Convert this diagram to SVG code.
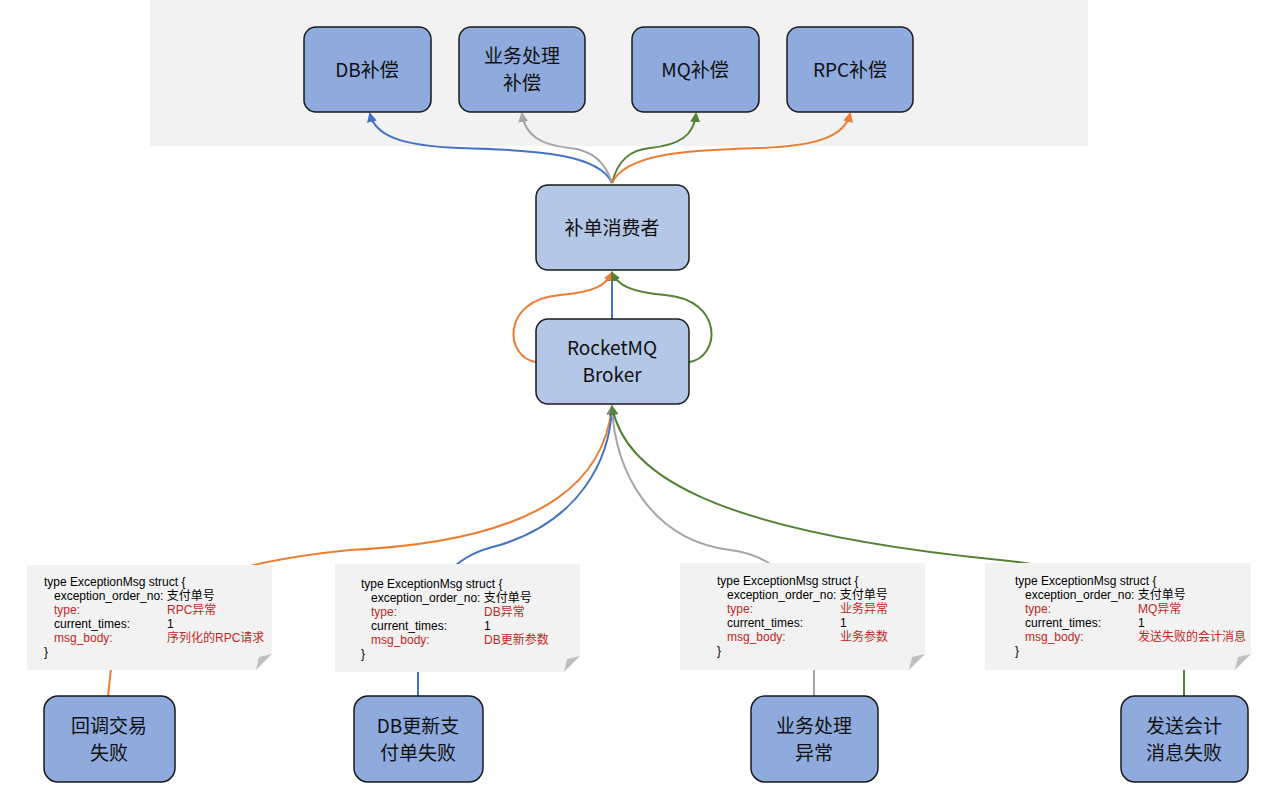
<svg xmlns="http://www.w3.org/2000/svg" width="1280" height="794" viewBox="0 0 1280 794">
<style>
.b{fill:#8faadc;stroke:#1a1a1a;stroke-width:1.5}
.l{fill:#b4c7e7;stroke:#1a1a1a;stroke-width:1.5}
.t{font-family:"Noto Sans CJK SC","Noto Sans",sans-serif;font-size:19px;fill:#111;text-anchor:middle}
.n{fill:#f2f2f2}
.f{fill:#bfbfbf}
.m{font-family:"Liberation Sans","Noto Sans CJK SC",sans-serif;font-size:12px;fill:#000}
.r{fill:#c0281e}
.c{fill:none;stroke-width:2}
</style>
<defs>
<marker id="ab" viewBox="0 0 10 10" refX="8" refY="5" markerWidth="5" markerHeight="5" orient="auto"><path d="M0,0L10,5L0,10z" fill="#4472c4"/></marker>
<marker id="ag" viewBox="0 0 10 10" refX="8" refY="5" markerWidth="5" markerHeight="5" orient="auto"><path d="M0,0L10,5L0,10z" fill="#a5a5a5"/></marker>
<marker id="an" viewBox="0 0 10 10" refX="8" refY="5" markerWidth="5" markerHeight="5" orient="auto"><path d="M0,0L10,5L0,10z" fill="#548235"/></marker>
<marker id="ao" viewBox="0 0 10 10" refX="8" refY="5" markerWidth="5" markerHeight="5" orient="auto"><path d="M0,0L10,5L0,10z" fill="#ed7d31"/></marker>
</defs>
<rect x="150" y="0" width="938" height="146" fill="#f2f2f2"/>
<g id="connectors">
<path class="c" stroke="#4472c4" marker-end="url(#ab)" d="M612,183 C600,155 540,150 460,148 C400,146 375,135 370,114"/>
<path class="c" stroke="#a5a5a5" marker-end="url(#ag)" d="M612,183 C605,160 590,150 570,148 C540,145 525,135 522,114"/>
<path class="c" stroke="#548235" marker-end="url(#an)" d="M612,183 C618,160 630,150 650,148 C680,145 694,135 696,114"/>
<path class="c" stroke="#ed7d31" marker-end="url(#ao)" d="M612,183 C625,155 680,150 760,148 C820,146 845,135 850,114"/>
<path class="c" stroke="#4472c4" marker-end="url(#ab)" d="M612,319 L612,273"/>
<path class="c" stroke="#ed7d31" marker-end="url(#ao)" d="M536,362 C505,358 500,300 560,295 C595,292 606,285 612,273"/>
<path class="c" stroke="#548235" marker-end="url(#an)" d="M689,362 C720,358 725,300 665,295 C630,292 618,285 612,273"/>
<path class="c" stroke="#ed7d31" marker-end="url(#ao)" d="M108,696 L112,660 C150,580 250,560 350,550 C560,540 605,470 612,407"/>
<path class="c" stroke="#4472c4" marker-end="url(#ab)" d="M418,696 L418,660 C430,570 460,555 500,545 C580,520 610,460 612,407"/>
<path class="c" stroke="#a5a5a5" marker-end="url(#ag)" d="M814,696 L814,660 C810,580 770,555 730,550 C650,540 615,470 612,407"/>
<path class="c" stroke="#548235" marker-end="url(#an)" d="M1184,696 L1184,660 C1160,580 1050,565 1000,560 C700,530 625,470 612,407"/>
</g>
<g id="db"><rect class="b" x="304" y="27" width="127" height="85" rx="12"/><text class="t" x="367" y="77">DB补偿</text></g>
<g id="biz"><rect class="b" x="459" y="27" width="126" height="85" rx="12"/><text class="t" x="522" y="63">业务处理</text><text class="t" x="522" y="90">补偿</text></g>
<g id="mq"><rect class="b" x="632" y="27" width="127" height="85" rx="12"/><text class="t" x="695" y="77">MQ补偿</text></g>
<g id="rpc"><rect class="b" x="787" y="27" width="126" height="85" rx="12"/><text class="t" x="850" y="77">RPC补偿</text></g>
<g id="consumer"><rect class="l" x="536" y="185" width="153" height="85" rx="12"/><text class="t" x="612" y="235">补单消费者</text></g>
<g id="broker"><rect class="l" x="536" y="319" width="153" height="85" rx="12"/><text class="t" x="612" y="355">RocketMQ</text><text class="t" x="612" y="382">Broker</text></g>
<g id="note1"><path class="n" d="M27,565H272V654L256,670H27z"/><path class="f" d="M272,654L256,670L259,657z"/>
<text class="m" x="44" y="586">type ExceptionMsg struct {</text>
<text class="m" x="54" y="600">exception_order_no: 支付单号</text>
<text class="m r" x="54" y="614">type:</text><text class="m r" x="167" y="614">RPC异常</text>
<text class="m" x="54" y="628">current_times:</text><text class="m" x="167" y="628">1</text>
<text class="m r" x="54" y="642">msg_body:</text><text class="m r" x="167" y="642">序列化的RPC请求</text>
<text class="m" x="44" y="656">}</text></g>
<g id="note2"><path class="n" d="M335,564H580V656L564,672H335z"/><path class="f" d="M580,656L564,672L567,659z"/>
<text class="m" x="361" y="588">type ExceptionMsg struct {</text>
<text class="m" x="371" y="602">exception_order_no: 支付单号</text>
<text class="m r" x="371" y="616">type:</text><text class="m r" x="484" y="616">DB异常</text>
<text class="m" x="371" y="630">current_times:</text><text class="m" x="484" y="630">1</text>
<text class="m r" x="371" y="644">msg_body:</text><text class="m r" x="484" y="644">DB更新参数</text>
<text class="m" x="361" y="658">}</text></g>
<g id="note3"><path class="n" d="M680,563H925V654L909,670H680z"/><path class="f" d="M925,654L909,670L912,657z"/>
<text class="m" x="717" y="585">type ExceptionMsg struct {</text>
<text class="m" x="727" y="599">exception_order_no: 支付单号</text>
<text class="m r" x="727" y="613">type:</text><text class="m r" x="840" y="613">业务异常</text>
<text class="m" x="727" y="627">current_times:</text><text class="m" x="840" y="627">1</text>
<text class="m r" x="727" y="641">msg_body:</text><text class="m r" x="840" y="641">业务参数</text>
<text class="m" x="717" y="655">}</text></g>
<g id="note4"><path class="n" d="M985,563H1251V654L1235,670H985z"/><path class="f" d="M1251,654L1235,670L1238,657z"/>
<text class="m" x="1015" y="585">type ExceptionMsg struct {</text>
<text class="m" x="1025" y="599">exception_order_no: 支付单号</text>
<text class="m r" x="1025" y="613">type:</text><text class="m r" x="1138" y="613">MQ异常</text>
<text class="m" x="1025" y="627">current_times:</text><text class="m" x="1138" y="627">1</text>
<text class="m r" x="1025" y="641">msg_body:</text><text class="m r" x="1138" y="641">发送失败的会计消息</text>
<text class="m" x="1015" y="655">}</text></g>
<g id="cb"><rect class="b" x="44" y="696" width="131" height="86" rx="14"/><text class="t" x="109" y="733">回调交易</text><text class="t" x="109" y="760">失败</text></g>
<g id="dbf"><rect class="b" x="354" y="696" width="129" height="86" rx="14"/><text class="t" x="418" y="733">DB更新支</text><text class="t" x="418" y="760">付单失败</text></g>
<g id="bizf"><rect class="b" x="751" y="696" width="127" height="86" rx="14"/><text class="t" x="814" y="733">业务处理</text><text class="t" x="814" y="760">异常</text></g>
<g id="mqf"><rect class="b" x="1121" y="696" width="127" height="86" rx="14"/><text class="t" x="1184" y="733">发送会计</text><text class="t" x="1184" y="760">消息失败</text></g>
</svg>
